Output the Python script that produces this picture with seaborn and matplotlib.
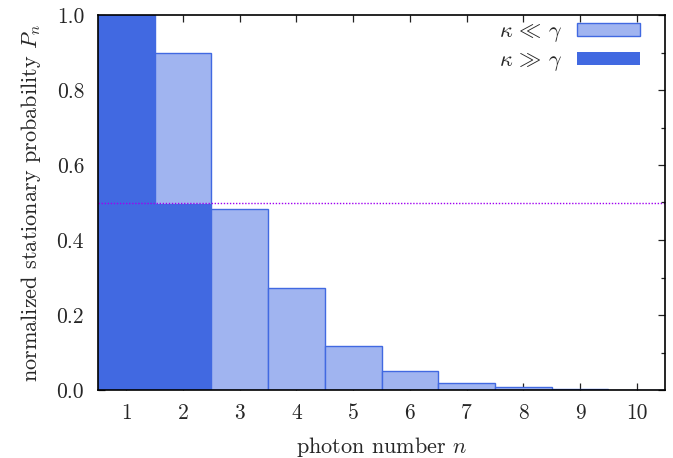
import matplotlib
matplotlib.use("Agg")
import matplotlib.pyplot as plt
import seaborn as sns
import pandas as pd
from matplotlib.patches import Patch
from matplotlib.ticker import MultipleLocator

photon_n = [1, 2, 3, 4, 5, 6, 7, 8, 9, 10]
p_weak = [1.0, 0.898, 0.484, 0.271, 0.118, 0.051, 0.018, 0.007, 0.002, 0.0005]
p_strong = [1.0, 0.496, 0.0, 0.0, 0.0, 0.0, 0.0, 0.0, 0.0, 0.0]
label_weak = r"$\kappa\,\ll\,\gamma$"
label_strong = r"$\kappa\,\gg\,\gamma$"
ref_level = 0.5

sns.set_theme(style="ticks")
plt.rcParams["font.family"] = ["cmr10", "DejaVu Serif"]
plt.rcParams["mathtext.fontset"] = "cm"
plt.rcParams["axes.formatter.use_mathtext"] = True

dark = "#4169E1"
light = "#A0B4F0"

fig = plt.figure(figsize=(6.73, 4.58), dpi=100)
ax = fig.add_axes([98/673, 68/458, 567/673, 375/458])

df_w = pd.DataFrame({"n": photon_n, "p": p_weak})
df_s = pd.DataFrame({"n": photon_n, "p": p_strong})
sns.barplot(data=df_w, x="n", y="p", native_scale=True, width=1.0,
            color=light, edgecolor=dark, linewidth=1.0, saturation=1, ax=ax)
sns.barplot(data=df_s, x="n", y="p", native_scale=True, width=1.0,
            color=dark, edgecolor=dark, linewidth=0.0, saturation=1, ax=ax)
ax.axhline(ref_level, color="#A000F0", linestyle=(0, (1, 1.2)), linewidth=1.0, zorder=5)

ax.set_xlim(0.5, 10.5)
ax.set_ylim(0, 1.0)
ax.set_xticks(photon_n)
ax.set_xticklabels([str(v) for v in photon_n])
ax.yaxis.set_major_locator(MultipleLocator(0.2))
ax.yaxis.set_minor_locator(MultipleLocator(0.1))
ax.set_yticklabels([f"{v:.1f}" for v in ax.get_yticks()])
ax.tick_params(axis="both", which="both", direction="in", top=True, right=True,
               labelsize=15.5, color="#222222")
ax.tick_params(which="major", length=5, width=0.9)
ax.tick_params(axis="x", which="major", pad=10)
ax.tick_params(axis="y", which="major", pad=10)
ax.tick_params(which="minor", length=3, width=0.9)
ax.tick_params(axis="x", which="minor", top=False, bottom=False)
for s in ax.spines.values():
    s.set_linewidth(1.2)
    s.set_color("black")
    s.set_zorder(10)

ax.set_xlabel(r"photon number $n$", fontsize=16, labelpad=8)
ax.set_ylabel(r"normalized stationary probability $P_n$", fontsize=16, labelpad=10)

handles = [Patch(facecolor=light, edgecolor=dark, linewidth=1.0),
           Patch(facecolor=dark, edgecolor=dark, linewidth=0)]
ax.legend(handles, [label_weak, label_strong], loc="upper right", frameon=False,
          markerfirst=False, fontsize=16, handlelength=2.8, handleheight=0.55,
          handletextpad=0.7, labelspacing=0.3, borderaxespad=0.1,
          bbox_to_anchor=(0.975, 1.012))

fig.savefig("out.png", dpi=100)
